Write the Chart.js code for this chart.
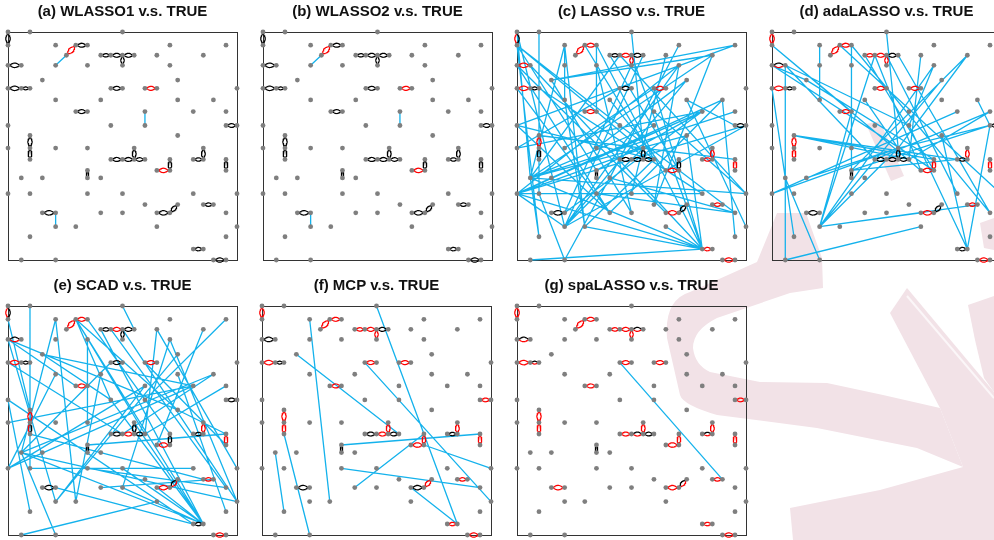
<!DOCTYPE html>
<html>
<head>
<meta charset="utf-8">
<title>Estimated networks v.s. TRUE</title>
<script src="https://cdn.jsdelivr.net/npm/chart.js"></script>
<style>
  html, body { margin: 0; padding: 0; background: #fff; }
  #page { position: relative; width: 994px; height: 540px; overflow: hidden; }
  #page canvas { position: absolute; }
  #mark { position: absolute; left: 0; top: 0; }
</style>
</head>
<body>
<div id="page">
  <svg id="mark" width="994" height="540" viewBox="0 0 994 540">
    <g fill="#f2e2e7">
      <path d="M777 213 L806 213 L822 258 L823 288 L790 293 L717 318 Q693 330 693 348 Q695 365 710 372 L760 382 L827 383 L883 395 L940 408 L963 467 L917 448 L817 428 L717 415 Q683 405 680 395 L667 338 Q664 300 690 292 L757 262 Z"/>
      <path d="M890 313 L907 288 L994 392 L994 540 L793 540 L790 508 L880 490 L963 467 L940 408 Z"/>
      <path d="M968 305 L994 296 L994 392 L984 378 L975 340 Z"/>
      <path d="M866 124 L880 121 L904 176 L891 181 Z"/>
      <path d="M980 223 L994 218 L994 250 L984 248 Z"/>
    </g>
    <path d="M907 296 L994 398" stroke="#fbf6f8" stroke-width="2" fill="none"/>
  </svg>
</div>
<script>
// node grid (same layout in every panel), in 0-100 units
const xGrid = [0, 5.8, 9.6, 15, 20.8, 25.5, 29.6, 34.7, 40.5, 44.9, 50, 55.1, 59.8, 65, 70.7, 74.1, 80.9, 85.3, 89.7, 95.2, 100];
const yGrid = [100, 94.2, 89.8, 85.4, 78.9, 75.3, 70.2, 65.1, 59, 54.6, 49.1, 44.1, 39.3, 36, 29.1, 24.3, 20.7, 14.6, 10.2, 4.8, 0];

// for each row of yGrid, the columns that hold a node
const nodeRows = [
  [0, 2, 10],
  [0, 4, 6, 7, 14, 19],
  [5, 8, 9, 10, 11, 13, 17],
  [0, 1, 4, 7, 10, 14],
  [3, 15],
  [0, 1, 2, 9, 10, 12, 13, 20],
  [4, 8, 15, 18],
  [6, 7, 12, 16, 19],
  [0, 9, 12, 19, 20],
  [2, 15],
  [0, 2, 4, 7, 11, 17],
  [2, 9, 10, 11, 12, 14, 16, 17, 19],
  [7, 13, 14, 19],
  [1, 3, 7, 8],
  [0, 2, 7, 10, 16, 20],
  [12, 15, 17, 18],
  [3, 4, 8, 10, 13, 14, 19],
  [4, 6, 13, 20],
  [2, 19],
  [16, 17],
  [1, 4, 18, 19]
];

// true edges [col1, row1, col2, row2], drawn as lenses
const trueEdges = [
  [0,0,0,1], [6,1,7,1], [5,2,6,1], [8,2,9,2], [9,2,10,2], [10,2,11,2], [10,2,10,3], [0,3,1,3],
  [0,5,1,5], [1,5,2,5], [9,5,10,5], [12,5,13,5], [6,7,7,7], [19,8,20,8], [2,9,2,10], [2,10,2,11],
  [9,11,10,11], [10,11,11,11], [11,10,11,11], [11,11,12,11], [16,11,17,11], [17,10,17,11], [14,11,14,12], [13,12,14,12],
  [19,11,19,12], [7,12,7,13], [3,16,4,16], [13,16,14,16], [14,16,15,15], [17,15,18,15], [16,19,17,19], [18,20,19,20]
];

// lens colours per true edge: k = black, r = red, m = black + red
const arcsA = 'kkrkkkkk kkkrkkkk kkkkkkkr kkkkkkkk';
const arcsC = 'mrrkrkrr rkkrrkrk kkkkrrkr rkkrkrrr';
const arcsD = 'rrrrrkrm rkrrrkrr kkkkkrrr rkkrkrkr';
const arcsE = 'mrrkrkkm rkkrrkrm krkkkrkr rkkrmrkr';
const arcsF = 'rrrrrkrk rkrrrrrr krrkkrrr rkkkrrrr';
const arcsG = 'rrrrrmrm rmrrrrrr rmrkmrrr rkrrmrrr';

// extra (false) edges of each estimate
const edgesA = [[4,3,5,2], [12,7,12,8], [4,16,4,17]];
const edgesC = [
  [2,0,2,14],[10,0,11,10],[0,0,4,17],[0,1,9,8],[0,1,7,12],[0,1,12,11],[1,3,16,19],[0,3,8,16],
  [3,4,17,2],[3,4,10,16],[4,1,1,13],[4,1,6,17],[4,1,4,6],[6,1,12,11],[7,1,7,7],[7,1,16,19],
  [8,2,14,12],[9,2,20,14],[10,2,16,19],[11,2,4,17],[13,2,10,14],[19,1,3,4],[19,1,0,8],[17,2,1,13],
  [14,3,12,15],[14,3,0,14],[15,4,4,17],[15,6,19,8],[18,6,0,14],[19,7,1,13],[16,7,7,12],[20,8,0,14],
  [0,8,12,11],[0,8,8,16],[2,9,19,11],[0,10,9,5],[4,10,12,5],[7,10,15,4],[1,13,16,19],[1,13,20,14],
  [1,13,15,9],[1,13,9,2],[1,13,0,0],[1,13,2,18],[0,14,16,14],[0,14,16,7],[0,14,11,10],[0,14,4,17],
  [0,14,16,19],[3,13,16,7],[4,17,14,3],[4,17,20,8],[4,17,11,10],[6,17,16,19],[6,17,12,11],[4,20,2,14],
  [1,20,16,19],[4,20,8,13],[13,17,16,19],[19,16,8,13],[20,17,15,6],[19,18,18,6],[15,9,16,19],[12,5,16,19],
  [12,7,20,14],[9,8,19,16],[12,8,1,13],[8,6,13,12],[7,3,10,16],[10,3,4,16],[14,1,8,13],[7,14,19,16],
  [12,15,17,2],[13,16,0,3],[2,18,0,1],[4,6,6,17],[16,7,4,16],[18,6,8,16],[0,5,8,16],[2,5,16,14],[0,10,16,7]
];
const edgesD = [
  [10,0,11,10],[4,1,4,6],[7,1,7,12],[0,1,13,12],[0,3,14,12],[1,3,12,8],[0,3,3,4],[1,3,9,11],
  [0,1,7,7],[0,5,2,18],[1,3,1,20],[3,4,14,11],[0,14,11,10],[2,9,12,11],[4,17,11,10],[4,17,7,7],
  [4,17,9,2],[4,17,13,16],[4,17,18,15],[4,20,1,13],[1,20,13,17],[17,2,7,12],[17,2,11,10],[14,3,12,8],
  [14,3,4,17],[18,6,19,8],[19,8,17,19],[19,7,9,11],[19,8,11,10],[8,2,14,12],[9,2,13,12],[10,2,16,14],
  [11,2,19,16],[7,1,19,16],[6,1,20,14],[12,8,17,19],[2,9,16,11],[3,13,11,10],[7,12,16,11],[15,9,17,19],
  [15,4,4,17],[13,2,12,11],[8,6,11,10],[19,7,12,11],[16,7,0,14],[19,8,7,12],[2,9,14,11]
];
const edgesE = [
  [2,0,2,14],[10,0,11,2],[0,1,2,9],[0,3,6,7],[0,3,4,17],[0,3,15,9],[0,5,10,11],[3,4,9,8],
  [3,4,16,7],[4,1,1,13],[4,1,6,17],[6,1,9,8],[6,1,12,11],[6,1,17,19],[6,1,15,9],[8,2,17,19],
  [9,2,19,16],[10,2,20,17],[7,3,7,10],[13,2,12,11],[14,3,10,16],[17,2,13,12],[19,1,12,8],[15,4,4,17],
  [18,6,1,13],[16,7,0,14],[19,7,12,11],[0,8,16,19],[1,13,17,19],[1,13,20,17],[1,13,9,5],[0,14,4,6],
  [0,14,12,7],[2,14,16,14],[7,12,19,11],[4,17,12,7],[6,17,8,6],[1,20,13,17],[4,20,1,13],[13,16,17,19],
  [10,16,17,19],[19,18,15,6],[20,17,14,3],[7,14,19,16],[8,16,18,15],[10,14,17,19],[2,18,0,8],[11,10,17,19],
  [9,8,17,19],[15,9,19,11],[12,5,19,12],[2,11,17,15],[10,11,18,6],[0,10,16,7],[13,2,20,14],[7,1,14,11],
  [4,16,16,19]
];
const edgesF = [
  [4,1,6,17],[3,4,12,11],[1,13,2,18],[2,11,4,20],[10,0,17,19],[9,5,20,17],
  [7,12,19,11],[8,16,14,11],[7,14,19,16],[14,12,20,14],[13,16,17,19]
];
const edgesG = [[9,5,18,15]];

const titles = ['(a) WLASSO1 v.s. TRUE', '(b) WLASSO2 v.s. TRUE', '(c) LASSO v.s. TRUE', '(d) adaLASSO v.s. TRUE',
                '(e) SCAD v.s. TRUE', '(f) MCP v.s. TRUE', '(g) spaLASSO v.s. TRUE'];
const panelEdges = [edgesA, edgesA, edgesC, edgesD, edgesE, edgesF, edgesG];
const panelArcs = [arcsA, arcsA, arcsC, arcsD, arcsE, arcsF, arcsG];

// page layout (px): left edge of each box, top of each row
const boxLeft = [8, 263, 517, 772, 8, 262, 517];
const boxTop = [32, 306];
const boxW = 229;
const boxH = [228, 229];
const pad = 6;
const titleSize = 15;

const nodes = [];
nodeRows.forEach(function (cols, r) {
  cols.forEach(function (c) { nodes.push({x: xGrid[c], y: yGrid[r]}); });
});

function segment(e) {
  return [{x: xGrid[e[0]], y: yGrid[e[1]]}, {x: xGrid[e[2]], y: yGrid[e[3]]}, {x: null, y: null}];
}

// one curved side of a lens between the two nodes of a true edge
function arc(e, side) {
  const x1 = xGrid[e[0]], y1 = yGrid[e[1]], x2 = xGrid[e[2]], y2 = yGrid[e[3]];
  const dx = x2 - x1, dy = y2 - y1, len = Math.hypot(dx, dy);
  const nx = -dy / len, ny = dx / len;
  const pts = [];
  for (let i = 0; i <= 16; i++) {
    const s = i / 16, t = 0.12 + 0.76 * s, h = side * 0.17 * len * Math.sin(Math.PI * s);
    pts.push({x: x1 + dx * t + nx * h, y: y1 + dy * t + ny * h});
  }
  pts.push({x: null, y: null});
  return pts;
}

const boxPlugin = {
  id: 'box',
  beforeDatasetsDraw: function (chart) {
    const a = chart.chartArea, ctx = chart.ctx;
    ctx.save();
    ctx.strokeStyle = '#333';
    ctx.lineWidth = 1;
    ctx.strokeRect(Math.round(a.left) + 0.5, Math.round(a.top) + 0.5, Math.round(a.right - a.left), Math.round(a.bottom - a.top));
    ctx.restore();
  }
};

function drawPanel(i) {
  const row = i < 4 ? 0 : 1;
  const canvas = document.createElement('canvas');
  canvas.width = boxW + 2 * pad;
  canvas.height = boxTop[0] + boxH[row] + pad;
  canvas.style.left = (boxLeft[i] - pad) + 'px';
  canvas.style.top = (boxTop[row] - boxTop[0]) + 'px';
  document.getElementById('page').appendChild(canvas);

  const codes = panelArcs[i].replace(/ /g, '');
  let black = [], red = [], blue = [];
  trueEdges.forEach(function (e, k) {
    const c = codes[k];
    if (c === 'k') { black = black.concat(arc(e, 1), arc(e, -1)); }
    else if (c === 'r') { red = red.concat(arc(e, 1), arc(e, -1)); }
    else { black = black.concat(arc(e, 1)); red = red.concat(arc(e, -1)); }
  });
  panelEdges[i].forEach(function (e) { blue = blue.concat(segment(e)); });

  new Chart(canvas.getContext('2d'), {
    type: 'scatter',
    data: {
      datasets: [
        {data: nodes, pointRadius: 2.4, pointBackgroundColor: '#7f7f7f', pointBorderWidth: 0, order: 0, clip: false},
        {data: black, showLine: true, borderColor: '#000', borderWidth: 1.2, pointRadius: 0, order: 1, clip: false},
        {data: red, showLine: true, borderColor: '#ff0000', borderWidth: 1.2, pointRadius: 0, order: 2, clip: false},
        {data: blue, showLine: true, borderColor: '#14b2ec', borderWidth: 1.3, pointRadius: 0, order: 3, clip: false}
      ]
    },
    options: {
      responsive: false,
      animation: false,
      events: [],
      layout: {padding: {left: pad, right: pad, top: 0, bottom: pad}},
      plugins: {
        legend: {display: false},
        tooltip: {enabled: false},
        title: {
          display: true,
          text: titles[i],
          color: '#111',
          font: {family: 'Liberation Sans, Arial, sans-serif', size: titleSize, weight: 'bold'},
          padding: {top: 3, bottom: boxTop[0] - 3 - titleSize * 1.2}
        }
      },
      scales: {
        x: {type: 'linear', min: 0, max: 100, display: false},
        y: {type: 'linear', min: 0, max: 100, display: false}
      }
    },
    plugins: [boxPlugin]
  });
}

for (let i = 0; i < titles.length; i++) drawPanel(i);
</script>
</body>
</html>
